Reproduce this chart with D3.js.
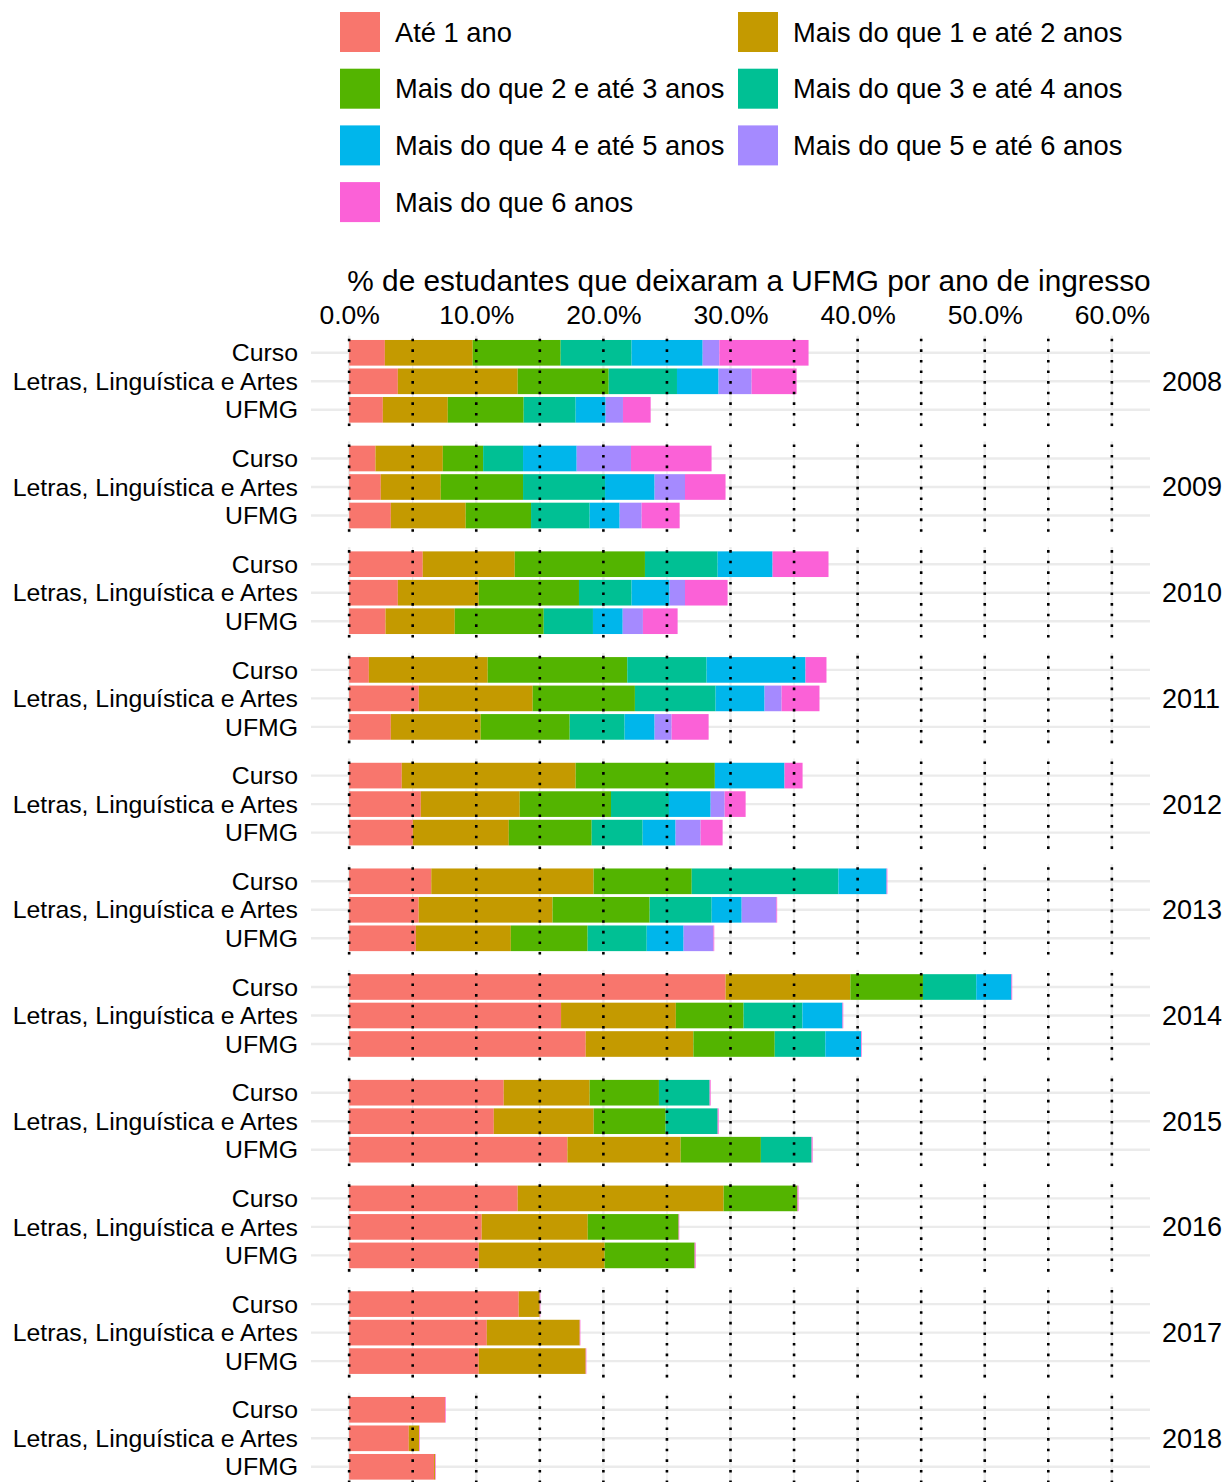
<!DOCTYPE html>
<html><head>
<meta charset="UTF-8">
<script src="https://cdn.jsdelivr.net/npm/d3@7/dist/d3.min.js"></script>
<style>
body{margin:0;background:#fff}
svg text{font-family:"Liberation Sans",Arial,Helvetica,sans-serif;fill:#000}
</style>
</head><body>
<svg id="chart" width="1226" height="1482"></svg>
<script>
// categories
var categorias = ["Até 1 ano","Mais do que 1 e até 2 anos","Mais do que 2 e até 3 anos",
  "Mais do que 3 e até 4 anos","Mais do que 4 e até 5 anos","Mais do que 5 e até 6 anos",
  "Mais do que 6 anos"];
var cores = ["#F8766D","#C49A00","#53B400","#00C094","#00B6EB","#A58AFF","#FB61D7"];
var anos = [2008,2009,2010,2011,2012,2013,2014,2015,2016,2017,2018];
var grupos = ["Curso","Letras, Linguística e Artes","UFMG"];
var xTicks = [0,10,20,30,40,50,60];
var vLines = [0,5,10,15,20,25,30,35,40,45,50,55,60];

// % per duration category; for each year: Curso, Letras..., UFMG
var ate1 =   [2.81,3.83,2.65, 2.07,2.49,3.28, 5.79,3.83,2.86, 1.55,5.48,3.28, 4.14,5.64,5.01, 6.46,5.47,5.25,
              29.61,16.67,18.61, 12.16,11.38,17.17, 13.26,10.43,10.20, 13.34,10.83,10.20, 7.55,4.69,6.68];
var de1a2 =  [6.91,9.43,5.11, 5.30,4.72,5.89, 7.24,6.37,5.45, 9.35,8.96,7.07, 13.68,7.78,7.55, 12.77,10.53,7.47,
              9.82,9.03,8.47, 6.76,7.86,8.91, 16.20,8.34,9.90, 1.65,7.31,8.41, 0,0.81,0.08];
var de2a3 =  [6.92,7.16,5.97, 3.17,6.47,5.14, 10.24,7.88,7.00, 10.98,8.04,7.00, 10.95,7.18,6.52, 7.72,7.64,6.04,
              5.71,5.33,6.40, 5.45,5.66,6.31, 5.81,7.15,7.08, 0,0,0, 0,0,0];
var de3a4 =  [5.58,5.37,4.09, 3.14,6.45,4.61, 5.72,4.14,3.87, 6.24,6.35,4.32, 0,4.56,4.01, 11.54,4.88,4.65,
              4.19,4.63,3.98, 3.99,4.09,3.99, 0,0,0, 0,0,0, 0,0,0];
var de4a5 =  [5.59,3.27,2.36, 4.22,3.90,2.36, 4.32,2.99,2.34, 7.78,3.85,2.36, 5.48,3.28,2.59, 3.79,2.36,2.90,
              2.77,3.15,2.81, 0,0,0, 0,0,0, 0,0,0, 0,0,0];
var de5a6 =  [1.31,2.60,1.36, 4.27,2.39,1.73, 0,1.21,1.59, 0,1.34,1.34, 0,1.10,1.97, 0,2.73,2.35,
              0,0,0, 0,0,0, 0,0,0, 0,0,0, 0,0,0];
var mais6 =  [7.02,3.54,2.18, 6.34,3.19,2.99, 4.40,3.35,2.73, 1.65,2.98,2.91, 1.42,1.65,1.73, 0.06,0.06,0.06,
              0.06,0.06,0.05, 0.08,0.08,0.08, 0.08,0.05,0.08, 0.05,0.05,0.05, 0.05,0.05,0.05];
var series = [ate1,de1a2,de2a3,de3a4,de4a5,de5a6,mais6];

var svg = d3.select("#chart");

// build stacked rows
var linhas = [];
anos.forEach(function(a, i){
  grupos.forEach(function(g, j){
    var r = {ano:a, grupo:g};
    categorias.forEach(function(c, k){ r[c] = series[k][i*3+j]; });
    linhas.push(r);
  });
});
var stack = d3.stack().keys(categorias)(linhas);

var x = d3.scaleLinear().domain([-3,63]).range([311,1150]);
var facetStep = 105.7, facetH = 91.2, top0 = 335.7;
var yAno = d3.scaleBand().domain(anos)
  .range([top0, top0 + anos.length*facetStep - (facetStep-facetH)])
  .paddingInner((facetStep-facetH)/facetStep).paddingOuter(0);
var yGrp = d3.scaleBand().domain(grupos).range([0, facetH]).paddingInner(0.1).paddingOuter(0.15);

// legend
var leg = svg.append("g");
categorias.forEach(function(c, k){
  var col = k % 2, row = Math.floor(k/2);
  var gx = col ? 738 : 340, gy = 12 + row*56.7;
  leg.append("rect").attr("x",gx).attr("y",gy).attr("width",40).attr("height",40).attr("fill",cores[k]);
  leg.append("text").attr("x",gx+55).attr("y",gy+20).attr("dy","0.35em")
    .style("font-size","27.3px").text(c);
});

// title and top axis
svg.append("text").attr("x",749).attr("y",291).attr("text-anchor","middle")
  .style("font-size","29.8px").text("% de estudantes que deixaram a UFMG por ano de ingresso");
var ax = svg.append("g").attr("transform","translate(0,324)")
  .call(d3.axisTop(x).tickValues(xTicks).tickSize(0).tickPadding(0)
    .tickFormat(function(d){ return d3.format(".1f")(d) + "%"; }));
ax.select(".domain").remove();
ax.selectAll("text").style("font-size","26.5px").attr("fill","#000").attr("dy",0);

// panels
anos.forEach(function(a, i){
  var p = svg.append("g").attr("transform","translate(0," + yAno(a) + ")");
  // grid
  vLines.forEach(function(v){
    p.append("line").attr("x1",x(v)).attr("x2",x(v)).attr("y1",0).attr("y2",facetH)
      .attr("stroke","#ebebeb").attr("stroke-width", v % 10 === 0 ? 2.4 : 1.3);
  });
  grupos.forEach(function(g){
    var cy = yGrp(g) + yGrp.bandwidth()/2;
    p.append("line").attr("x1",x(-3)).attr("x2",x(63)).attr("y1",cy).attr("y2",cy)
      .attr("stroke","#ebebeb").attr("stroke-width",2.4);
    p.append("text").attr("x",298).attr("y",cy).attr("dy","0.35em").attr("text-anchor","end")
      .style("font-size","24.8px").text(g);
  });
  // bars
  stack.forEach(function(s, k){
    p.selectAll(null).data(s.filter(function(d){ return d.data.ano === a; }))
      .enter().append("rect")
      .attr("x", function(d){ return x(d[0]); })
      .attr("width", function(d){ return Math.max(0, x(d[1]) - x(d[0])); })
      .attr("y", function(d){ return yGrp(d.data.grupo); })
      .attr("height", yGrp.bandwidth())
      .attr("fill", cores[k]);
  });
  // dotted reference lines
  vLines.forEach(function(v){
    p.append("line").attr("x1",x(v)).attr("x2",x(v)).attr("y1",0).attr("y2",facetH)
      .attr("stroke","#000").attr("stroke-width",2.6).attr("stroke-dasharray","2.6,8")
      .attr("stroke-dashoffset",-3);
  });
  // strip
  p.append("text").attr("x",1162).attr("y",facetH/2).attr("dy","0.35em")
    .style("font-size","27px").text(a);
});
</script>
</body></html>
